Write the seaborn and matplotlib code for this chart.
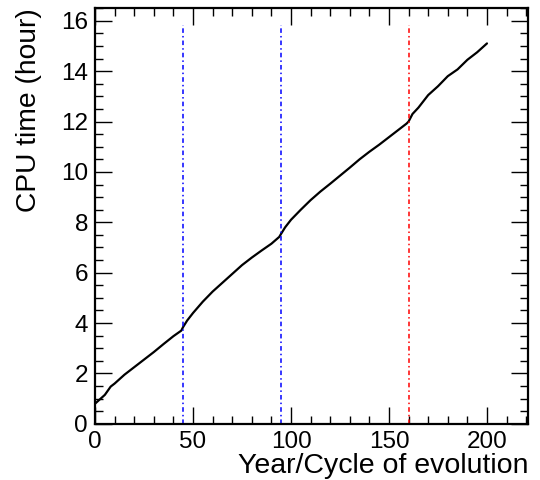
import numpy as np
import pandas as pd
import matplotlib
matplotlib.use("Agg")
import matplotlib.pyplot as plt
from matplotlib.ticker import MultipleLocator
import seaborn as sns

# Data
year = [0, 5, 8, 10, 15, 20, 25, 30, 35, 40, 44, 45, 47, 50, 55, 60, 65, 70, 75, 80,
        85, 90, 94, 95, 97, 100, 105, 110, 115, 120, 125, 130, 135, 140, 145, 150,
        155, 159, 160, 162, 165, 170, 175, 180, 185, 190, 195, 200]
cpu_hours = [0.80, 1.15, 1.48, 1.60, 1.95, 2.25, 2.55, 2.85, 3.17, 3.48, 3.70, 3.85,
             4.10, 4.40, 4.85, 5.25, 5.60, 5.95, 6.30, 6.60, 6.88, 7.15, 7.42, 7.55,
             7.80, 8.10, 8.50, 8.88, 9.22, 9.53, 9.85, 10.17, 10.50, 10.80, 11.08,
             11.38, 11.68, 11.92, 12.00, 12.30, 12.55, 13.05, 13.40, 13.80, 14.07,
             14.45, 14.75, 15.10]
marker_years = [45, 95, 160]
marker_colors = ["blue", "blue", "red"]
marker_top = 15.85

sns.set_style("ticks")
plt.rcParams["font.family"] = ["Liberation Sans", "DejaVu Sans"]

fig = plt.figure(figsize=(5.4, 4.8), dpi=100)
ax = fig.add_axes([0.176, 0.117, 0.802, 0.866])

df = pd.DataFrame({"year": year, "cpu": cpu_hours})
sns.lineplot(data=df, x="year", y="cpu", ax=ax, color="black", linewidth=1.6)

for xv, c in zip(marker_years, marker_colors):
    ax.plot([xv, xv], [0, marker_top], color=c, linewidth=1.1,
            linestyle=(0, (3, 2, 1, 2)))

ax.set_xlim(0, 221)
ax.set_ylim(0, 16.5)
ax.xaxis.set_major_locator(MultipleLocator(50))
ax.xaxis.set_minor_locator(MultipleLocator(10))
ax.yaxis.set_major_locator(MultipleLocator(2))
ax.yaxis.set_minor_locator(MultipleLocator(0.5))

ax.tick_params(which="both", direction="in", top=True, right=True, width=1.0,
               colors="black", labelsize=17.5)
ax.tick_params(which="major", length=12, pad=5)
ax.tick_params(which="minor", length=6)
for s in ax.spines.values():
    s.set_linewidth(1.6)
    s.set_color("black")

ax.set_xlabel("Year/Cycle of evolution", fontsize=20.5, loc="right", labelpad=0,
              color="black")
ax.set_ylabel("CPU time (hour)", fontsize=20.3, loc="top", labelpad=14,
              color="black")

fig.savefig("out.png", dpi=100)
